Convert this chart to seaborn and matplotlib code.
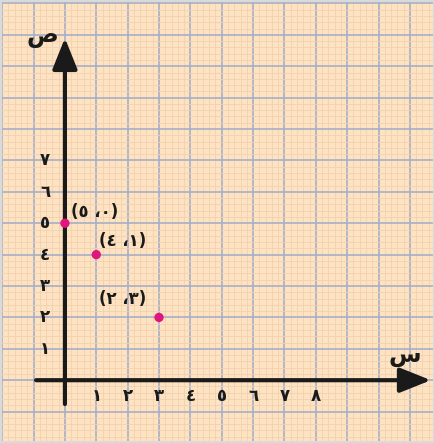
import matplotlib
matplotlib.use("Agg")
import matplotlib.pyplot as plt
import numpy as np
import pandas as pd
import seaborn as sns

# 点的数据
x_vals = [0, 1, 3]
y_vals = [5, 4, 2]
point_labels = ["(٥ ،٠)", "(٤ ،١)", "(٢ ،٣)"]

# 轴上的数字
x_ticks = [1, 2, 3, 4, 5, 6, 7, 8]
x_tick_labels = ["١", "٢", "٣", "٤", "٥", "٦", "٧", "٨"]
y_ticks = [1, 2, 3, 4, 5, 6, 7]
y_tick_labels = ["١", "٢", "٣", "٤", "٥", "٦", "٧"]

x_name = "س"
y_name = "ص"

df = pd.DataFrame({"x": x_vals, "y": y_vals, "label": point_labels})

sns.set_style("white")
plt.rcParams['font.family'] = ['DejaVu Sans']

fig = plt.figure(figsize=(4.35, 4.43), dpi=100)
ax = fig.add_axes([0, 0, 1, 1])
ax.set_facecolor("#fde3c1")

# 坐标纸网格
ax.set_xlim(-2.07, 11.76)
ax.set_ylim(-1.97, 12.11)
ax.set_xticks(np.arange(-2, 12))
ax.set_yticks(np.arange(-1, 13))
ax.set_xticks(np.arange(-2, 12, 0.2), minor=True)
ax.set_yticks(np.arange(-2, 12.2, 0.2), minor=True)
ax.grid(which="minor", color="#f3d0b0", linewidth=0.6)
ax.grid(which="major", color="#a7afc6", linewidth=1.2)
ax.tick_params(which="both", length=0, labelbottom=False, labelleft=False)
ax.set_axisbelow(True)
for s in ax.spines.values():
    s.set_color("#dadada")
    s.set_linewidth(3)

# 坐标轴箭头
ax.annotate("", xy=(0, 10.9), xytext=(0, -0.76),
            arrowprops=dict(arrowstyle="-|>,head_length=0.95,head_width=0.38",
                            color="#1a1a1a", lw=3, mutation_scale=20,
                            shrinkA=0, shrinkB=0))
ax.annotate("", xy=(11.67, 0), xytext=(-0.92, 0),
            arrowprops=dict(arrowstyle="-|>,head_length=0.95,head_width=0.38",
                            color="#1a1a1a", lw=3, mutation_scale=20,
                            shrinkA=0, shrinkB=0))

# 点
sns.scatterplot(data=df, x="x", y="y", color="#e0157e", s=45, edgecolor="none",
                ax=ax, zorder=5, legend=False)
ax.set_xlabel("")
ax.set_ylabel("")

offsets = [(0.95, 0.37), (0.85, 0.42), (-1.15, 0.58)]
for (xx, yy, lab), (dx, dy) in zip(zip(x_vals, y_vals, point_labels), offsets):
    ax.text(xx + dx, yy + dy, lab, fontsize=12, fontweight="bold",
            color="#1a1a1a", ha="center", va="center")

for t, lab in zip(x_ticks, x_tick_labels):
    ax.text(t, -0.5, lab, fontsize=12, fontweight="bold", color="#1a1a1a",
            ha="center", va="center")
for t, lab in zip(y_ticks, y_tick_labels):
    ax.text(-0.63, t, lab, fontsize=12, fontweight="bold", color="#1a1a1a",
            ha="center", va="center")

ax.text(-0.73, 10.95, y_name, fontsize=17, fontweight="bold", color="#1a1a1a",
        ha="center", va="center")
ax.text(10.85, 0.8, x_name, fontsize=17, fontweight="bold", color="#1a1a1a",
        ha="center", va="center")

fig.savefig("out.png", dpi=100)
